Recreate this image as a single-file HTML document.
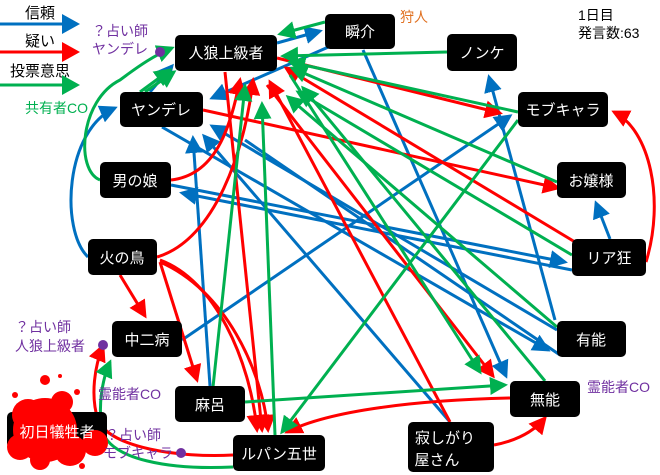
<!DOCTYPE html>
<html><head><meta charset="utf-8"><style>
html,body{margin:0;padding:0;background:#fff;}
svg{display:block;font-family:"Liberation Sans","Noto Sans CJK JP",sans-serif;}
.n{fill:#000;}
.t{fill:#fff;font-size:15px;text-anchor:middle;}
.b{stroke:#0070C0;stroke-width:3;fill:none;marker-end:url(#mb);}
.r{stroke:#FF0000;stroke-width:3;fill:none;marker-end:url(#mr);}
.g{stroke:#00B050;stroke-width:3;fill:none;marker-end:url(#mg);}
.p{fill:#7030A0;font-size:14px;}
</style></head><body>
<svg width="660" height="475" viewBox="0 0 660 475">
<defs>
<marker id="mb" markerWidth="6" markerHeight="6" refX="5" refY="3" orient="auto"><path d="M0,0 L6,3 L0,6z" fill="#0070C0"/></marker>
<marker id="mr" markerWidth="6" markerHeight="6" refX="5" refY="3" orient="auto"><path d="M0,0 L6,3 L0,6z" fill="#FF0000"/></marker>
<marker id="mg" markerWidth="6" markerHeight="6" refX="5" refY="3" orient="auto"><path d="M0,0 L6,3 L0,6z" fill="#00B050"/></marker>
</defs>
<!-- legend -->
<text x="40" y="18" font-size="15" text-anchor="middle">信頼</text>
<path d="M0,24 L62,24" stroke="#0070C0" stroke-width="3"/><path d="M62,14 L80,24 L62,34z" fill="#0070C0"/>
<text x="40" y="46" font-size="15" text-anchor="middle">疑い</text>
<path d="M0,52 L62,52" stroke="#FF0000" stroke-width="3"/><path d="M62,42 L80,52 L62,62z" fill="#FF0000"/>
<text x="40" y="76" font-size="15" text-anchor="middle">投票意思</text>
<path d="M0,85 L62,85" stroke="#00B050" stroke-width="3"/><path d="M62,75 L80,85 L62,95z" fill="#00B050"/>

<!-- blue edges -->
<path d="M150,92 L172,66" class="b"/>
<path d="M277,43 L320,31" class="b"/>
<path d="M333,45 L212,98" class="b"/>
<path d="M88,257 C60,230 65,130 115,108" class="b"/>
<path d="M363,50 L506,376" class="b"/>
<path d="M555,320 L489,77" class="b"/>
<path d="M182,340 L510,116" class="b"/>
<path d="M610,239 L596,203" class="b"/>
<path d="M171,185 L565,262" class="b"/>
<path d="M572,270 L182,193" class="b"/>
<path d="M162,127 L548,350" class="b"/>
<path d="M210,386 L193,138" class="b"/>
<path d="M557,330 L212,126" class="b"/>
<path d="M450,422 L204,136" class="b"/>
<path d="M245,140 L560,355" class="b" style="marker-end:none"/>

<!-- red edges -->
<path d="M171,180 C215,175 230,130 240,80" class="r"/>
<path d="M157,257 C215,240 245,150 253,80" class="r"/>
<path d="M277,58 L500,113" class="r"/>
<path d="M203,110 L558,188" class="r"/>
<path d="M646,262 C665,200 650,130 614,112" class="r"/>
<path d="M575,242 L286,68" class="r"/>
<path d="M120,275 L145,316" class="r"/>
<path d="M160,262 L197,380" class="r"/>
<path d="M160,260 C215,280 250,360 257,430" class="r"/>
<path d="M160,262 C225,290 262,370 268,430" class="r"/>
<path d="M225,72 L262,430" class="r"/>
<path d="M267,85 L493,376" class="r"/>
<path d="M450,422 L270,82" class="r"/>
<path d="M510,398 C420,400 330,410 287,432" class="r"/>
<path d="M233,455 C180,458 110,448 98,420 C90,395 95,365 103,346" class="r"/>
<path d="M494,445 C520,440 535,430 545,418" class="r"/>

<!-- green edges -->
<path d="M100,180 C75,170 80,100 120,80 C140,65 155,55 172,48" class="g"/>
<path d="M140,92 L170,70" class="g"/>
<path d="M145,92 L174,72" class="g"/>
<path d="M447,52 L283,56" class="g"/>
<path d="M518,112 L290,62" class="g"/>
<path d="M325,22 L280,34" class="g"/>
<path d="M518,120 L282,432" class="g"/>
<path d="M557,182 L292,68" class="g"/>
<path d="M572,255 L298,92" class="g"/>
<path d="M557,327 L288,97" class="g"/>
<path d="M545,381 L303,88" class="g"/>
<path d="M213,387 L245,86" class="g"/>
<path d="M275,435 L262,104" class="g"/>
<path d="M290,75 L480,372" class="g"/>
<path d="M245,402 L505,385" class="g"/>
<path d="M233,467 C170,470 110,460 102,430 C98,405 102,380 110,362" class="g"/>

<!-- nodes -->
<rect class="n" x="175" y="35" width="102" height="36" rx="5"/><text class="t" x="226" y="58">人狼上級者</text>
<rect class="n" x="325" y="14" width="70" height="35" rx="5"/><text class="t" x="360" y="37">瞬介</text>
<rect class="n" x="447" y="34" width="70" height="37" rx="5"/><text class="t" x="482" y="58">ノンケ</text>
<rect class="n" x="120" y="92" width="83" height="35" rx="5"/><text class="t" x="161" y="115">ヤンデレ</text>
<rect class="n" x="518" y="92" width="90" height="35" rx="5"/><text class="t" x="563" y="115">モブキャラ</text>
<rect class="n" x="100" y="162" width="71" height="36" rx="5"/><text class="t" x="135" y="186">男の娘</text>
<rect class="n" x="557" y="162" width="69" height="36" rx="5"/><text class="t" x="591" y="186">お嬢様</text>
<rect class="n" x="88" y="239" width="69" height="36" rx="5"/><text class="t" x="122" y="263">火の鳥</text>
<rect class="n" x="572" y="239" width="74" height="37" rx="5"/><text class="t" x="609" y="263">リア狂</text>
<rect class="n" x="112" y="321" width="70" height="36" rx="5"/><text class="t" x="147" y="345">中二病</text>
<rect class="n" x="557" y="321" width="69" height="36" rx="5"/><text class="t" x="591" y="345">有能</text>
<rect class="n" x="175" y="386" width="70" height="36" rx="5"/><text class="t" x="210" y="410">麻呂</text>
<rect class="n" x="510" y="381" width="70" height="36" rx="5"/><text class="t" x="545" y="405">無能</text>
<rect class="n" x="233" y="435" width="92" height="36" rx="5"/><text class="t" x="279" y="459">ルパン五世</text>
<rect class="n" x="408" y="422" width="86" height="50" rx="5"/><text class="t" x="445" y="443">寂しがり</text><text class="t" x="437" y="465">屋さん</text>

<!-- victim with blood -->
<rect class="n" x="7" y="412" width="100" height="36" rx="5"/>
<g fill="#FF0000">
<circle cx="45" cy="430" r="32"/><circle cx="28" cy="415" r="16"/><circle cx="70" cy="450" r="16"/>
<circle cx="95" cy="443" r="13"/><circle cx="62" cy="402" r="11"/><circle cx="20" cy="447" r="13"/>
<circle cx="40" cy="460" r="10"/>
<circle cx="45" cy="380" r="5"/><circle cx="60" cy="376" r="2"/><circle cx="77" cy="392" r="3"/>
<circle cx="82" cy="466" r="3"/><circle cx="15" cy="395" r="3"/>
</g>
<text class="t" x="57" y="437">初日犠牲者</text>

<!-- labels -->
<text class="p" x="92" y="36">？占い師</text>
<text class="p" x="92" y="54">ヤンデレ</text>
<circle cx="160" cy="52" r="5" fill="#7030A0"/>
<text x="25" y="113" font-size="14" fill="#00B050">共有者CO</text>
<text x="400" y="22" font-size="14" fill="#E07020">狩人</text>
<text x="578" y="20" font-size="14">1日目</text>
<text x="578" y="38" font-size="14">発言数:63</text>
<text class="p" x="15" y="332">？占い師</text>
<text class="p" x="15" y="351">人狼上級者</text>
<circle cx="103" cy="345" r="5" fill="#7030A0"/>
<text class="p" x="98" y="399">霊能者CO</text>
<text class="p" x="105" y="440">？占い師</text>
<text class="p" x="103" y="458">モブキャラ</text>
<circle cx="181" cy="453" r="5" fill="#7030A0"/>
<text class="p" x="587" y="392">霊能者CO</text>
</svg>
</body></html>
